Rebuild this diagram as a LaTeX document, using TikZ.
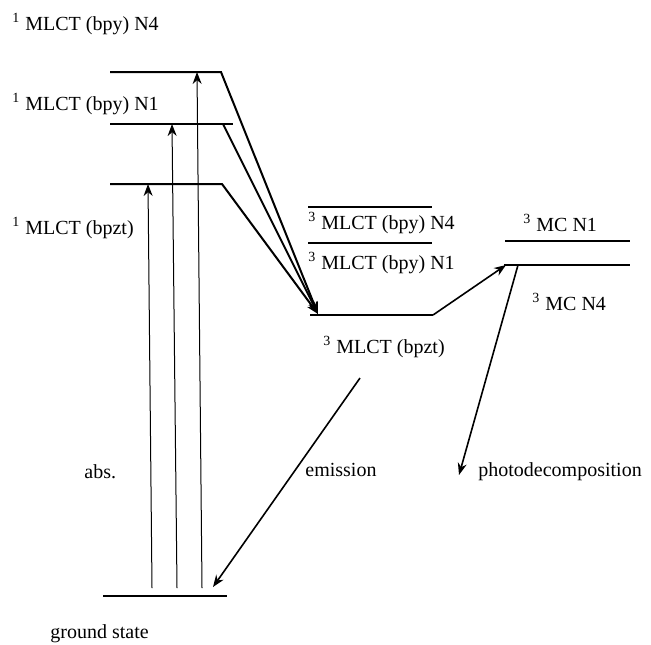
\documentclass[tikz,border=0pt]{standalone}
\usepackage{fontspec}
\setmainfont{Liberation Serif}
\usetikzlibrary{arrows.meta}

\begin{document}
\begin{tikzpicture}[
        x=0.5pt, y=-0.5pt,
        lvl/.style={line width=1.1pt},
        lbl/.style={anchor=west, inner sep=0pt, font=\fontsize{10}{12}\selectfont},
        jump/.style={line width=0.8pt, -{Stealth[length=6pt,width=4.5pt]}},
        abso/.style={line width=0.5pt, -{Stealth[length=6pt,width=4.5pt]}},
    ]
        \useasboundingbox (0,0) rectangle (651,644);

        % Singlet levels (left)
        \coordinate (S4L) at (110,72);  \coordinate (S4R) at (221,72);
        \coordinate (S1L) at (110,124); \coordinate (S1R) at (233,124); \coordinate (S1K) at (223,124);
        \coordinate (SBL) at (110,184); \coordinate (SBR) at (222,184);
        \draw[lvl] (S1L) -- (S1R);

        % Triplet levels (middle and right)
        \coordinate (T4L) at (308,207); \coordinate (T4R) at (432,207);
        \coordinate (T1L) at (308,243); \coordinate (T1R) at (432,243);
        \coordinate (TBL) at (310,315); \coordinate (TBR) at (433,315); \coordinate (TBTIP) at (318,314);
        \coordinate (M1L) at (505,241); \coordinate (M1R) at (630,241);
        \coordinate (M4L) at (504,265); \coordinate (M4R) at (630,265);
        \coordinate (M4TIP) at (506,265); \coordinate (M4K) at (518,265);
        \draw[lvl] (T4L) -- (T4R);
        \draw[lvl] (T1L) -- (T1R);
        \draw[lvl] (M1L) -- (M1R);
        \draw[lvl] (M4L) -- (M4R);

        % Ground state
        \coordinate (GL) at (103,596); \coordinate (GR) at (227,596);
        \draw[lvl] (GL) -- (GR);

        % Absorption
        \coordinate (A1) at (152,588); \coordinate (A1T) at (148,184);
        \coordinate (A2) at (177,588); \coordinate (A2T) at (172,124);
        \coordinate (A3) at (202,588); \coordinate (A3T) at (197,72);
        \draw[abso] (A1) -- (A1T);
        \draw[abso] (A2) -- (A2T);
        \draw[abso] (A3) -- (A3T);

        % Intersystem crossing into 3MLCT (bpzt)
        \draw[jump, line width=1pt] (S4L) -- (S4R) -- (TBTIP);
        \draw[jump, line width=1pt] (S1K) -- (TBTIP);
        \draw[jump, line width=1pt] (SBL) -- (SBR) -- (TBTIP);
        \draw[lvl] (TBL) -- (TBR);
        \draw[jump] (TBR) -- (M4TIP);

        % Emission and photodecomposition
        \coordinate (EMS) at (360,378); \coordinate (EMTIP) at (213,587);
        \coordinate (PDTIP) at (459,475);
        \draw[jump] (EMS) -- (EMTIP);
        \draw[jump] (M4K) -- (PDTIP);

        % Labels
        \node[lbl] (LS4) at (12,24) {\textsuperscript{1} MLCT (bpy) N4};
        \node[lbl] (LS1) at (12,104) {\textsuperscript{1} MLCT (bpy) N1};
        \node[lbl] (LSB) at (12,228) {\textsuperscript{1} MLCT (bpzt)};
        \node[lbl] (LT4) at (308,223) {\textsuperscript{3} MLCT (bpy) N4};
        \node[lbl] (LT1) at (308,263) {\textsuperscript{3} MLCT (bpy) N1};
        \node[lbl] (LTB) at (323,347) {\textsuperscript{3} MLCT (bpzt)};
        \node[lbl] (LM1) at (523,223) {\textsuperscript{3} MC N1};
        \node[lbl] (LM4) at (532,302) {\textsuperscript{3} MC N4};
        \node[lbl] (LABS) at (84,472) {abs.};
        \node[lbl] (LEM) at (305,470) {emission};
        \node[lbl] (LPD) at (478,472) {photodecomposition};
        \node[lbl] (LGS) at (50,634) {ground state};
    \end{tikzpicture}
\end{document}
